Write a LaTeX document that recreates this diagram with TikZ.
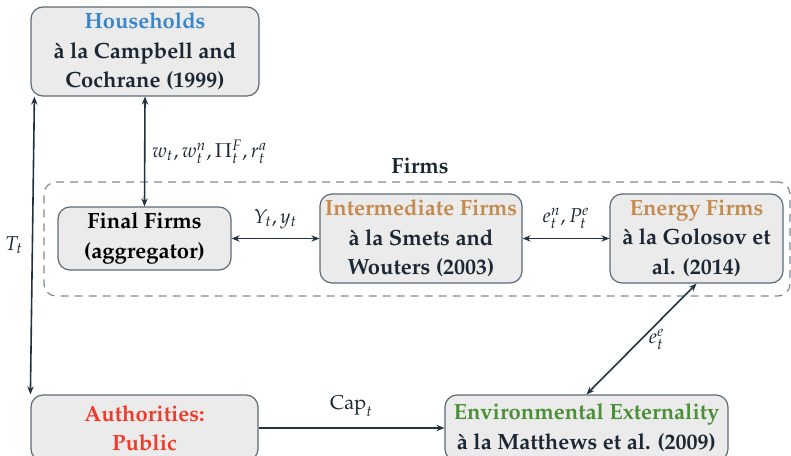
\documentclass[tikz,border=0pt]{standalone}
\usepackage[T1]{fontenc}
\usepackage{mathpazo}
\usepackage{amsmath}
\usepackage{tikz}
\usetikzlibrary{
arrows.meta,
positioning
}
\definecolor{mdlink}{HTML}{22323F}
\definecolor{mdink}{HTML}{1B2733}
\definecolor{mdedge}{HTML}{5D6B76}
\definecolor{mdfill}{HTML}{EBEBEB}
\definecolor{mddash}{HTML}{7D8A94}
\definecolor{mdblue}{HTML}{3B86C6}
\definecolor{mdorange}{HTML}{C48A4E}
\definecolor{mdred}{HTML}{F03A2A}
\definecolor{mdgreen}{HTML}{4A8E36}

\begin{document}
\begin{tikzpicture}[x=0.5pt, y=-0.5pt, >={Stealth[length=4pt,width=3.2pt]},
  agent/.style={draw=mdedge, fill=mdfill, rounded corners=6pt, line width=0.6pt,
    align=center, text=mdink, inner sep=0pt,
    font=\fontsize{11}{14.75}\selectfont\bfseries},
  flow/.style={draw=mdlink, line width=0.8pt},
  flowlab/.style={text=mdink, font=\fontsize{10}{12}\selectfont}]

\useasboundingbox (0,0) rectangle (791,455);

% Firms block (dashed frame)
\node[draw=mddash, dash pattern=on 4pt off 3pt, line width=0.6pt, rounded corners=6pt,
  minimum width=373pt, minimum height=57pt] (firms) at (417,239) {};
\node[text=mdink, font=\fontsize{11}{13}\selectfont\bfseries] (firmslab) at (420,166) {Firms};

% Agents
\node[agent, minimum width=114pt, minimum height=44.5pt] (hh) at (145,51.5)
  {\textcolor{mdblue}{Households}\\ \`a la Campbell and\\ Cochrane (1999)};
\node[agent, minimum width=86.5pt, minimum height=31.5pt, text=black] (final) at (144.5,238.5)
  {Final Firms\\ (aggregator)};
\node[agent, minimum width=101pt, minimum height=44.5pt] (inter) at (421,238.5)
  {\textcolor{mdorange}{Intermediate Firms}\\ \`a la Smets and\\ Wouters (2003)};
\node[agent, minimum width=86.5pt, minimum height=44.5pt] (energy) at (696.5,238.5)
  {\textcolor{mdorange}{Energy Firms}\\ \`a la Golosov et\\ al. (2014)};
\node[agent, minimum width=113.5pt, minimum height=33pt, text=mdred] (auth) at (144.5,428)
  {Authorities:\\ Public};
\node[agent, minimum width=141.5pt, minimum height=33pt] (env) at (586.5,428)
  {\textcolor{mdgreen}{Environmental Externality}\\ \`a la Matthews et al. (2009)};

% Flows
\draw[flow, <->] (hh.south) -- (final.north)
  node[flowlab, midway, right=0pt] {$w_t, w_t^n, \Pi_t^F, r_t^a$};
\draw[flow, <->] ([xshift=2pt]hh.south west) -- (auth.north west)
  node[flowlab, midway, left=1pt] {$T_t$};
\draw[flow, <->] (final.east) -- (inter.west)
  node[flowlab, midway, above=1pt] {$Y_t, y_t$};
\draw[flow, <->] (inter.east) -- (energy.west)
  node[flowlab, midway, above=1pt] {$e_t^n, P_t^e$};
\draw[flow, <->] (energy.south) -- (env.north)
  node[flowlab, midway, right=0pt] {$e_t^e$};
\draw[flow, ->] (auth.east) -- (env.west)
  node[flowlab, midway, above=2pt] {$\mathrm{Cap}_t$};

\end{tikzpicture}
\end{document}
